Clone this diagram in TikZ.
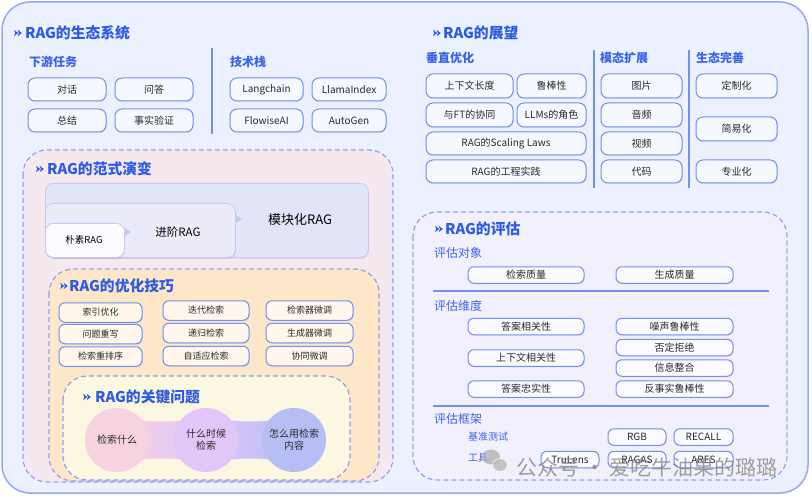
\documentclass[tikz,border=0pt]{standalone}
\usepackage{fontspec}
\setmainfont{Noto Sans CJK SC}
\usetikzlibrary{shadows,positioning}
\definecolor{titleblue}{HTML}{2D5BE3}
\definecolor{subblue}{HTML}{3A63E8}
\definecolor{framebg}{HTML}{EBF1FE}
\definecolor{framebd}{HTML}{93A9F3}
\definecolor{pillbd}{HTML}{7190F0}
\definecolor{pillbg}{HTML}{F6F8FF}
\definecolor{dashbd}{HTML}{8EA2EE}
\definecolor{pinkbg}{HTML}{F6E8EF}
\definecolor{orangebg}{HTML}{FDE7C8}
\definecolor{yellowbg}{HTML}{FCF7E0}
\definecolor{evalbg}{HTML}{F3F0FD}
\definecolor{optbg}{HTML}{FFF7EC}
\definecolor{evbg}{HTML}{FBFAFF}
\definecolor{modbg}{HTML}{E2E4F8}
\definecolor{advbg}{HTML}{ECECF9}
\definecolor{naivebg}{HTML}{FBFBFF}
\definecolor{stagebd}{HTML}{C4CAF3}
\definecolor{textdark}{HTML}{2A2A2A}
\definecolor{ballA}{HTML}{F7D3E1}
\definecolor{ballB}{HTML}{E2C6F9}
\definecolor{ballC}{HTML}{B7BEF6}
\tikzset{
	frame/.style={draw=framebd, line width=1.5pt, fill=framebg, rounded corners=28pt},
	dashbox/.style={draw=dashbd, line width=1.2pt, dash pattern=on 5pt off 3pt, rounded corners=24pt},
	sechead/.style={anchor=west, inner sep=0, text=titleblue, font=\bfseries\fontsize{14.8}{18}\selectfont},
	subhead/.style={anchor=west, inner sep=0, text=subblue, font=\bfseries\fontsize{12}{14}\selectfont},
	evhead/.style={anchor=west, inner sep=0, text=subblue, font=\fontsize{12}{14}\selectfont},
	pill/.style={draw=pillbd, line width=1pt, fill=pillbg, rounded corners=7pt, minimum height=23pt,
		inner sep=0, text=textdark, font=\fontsize{10}{12}\selectfont,
		drop shadow={opacity=0.12, shadow xshift=0.8pt, shadow yshift=-1.2pt}},
	optbox/.style={pill, fill=optbg, rounded corners=6pt, minimum height=19.5pt, font=\fontsize{9}{11}\selectfont},
	evbox/.style={pill, fill=evbg, rounded corners=6pt, minimum height=16.5pt},
	stage/.style={draw=stagebd, line width=0.8pt, rounded corners=8pt, anchor=north west,
		drop shadow={opacity=0.15, shadow xshift=0.8pt, shadow yshift=-1.5pt}},
	sepline/.style={draw=pillbd, line width=1.4pt},
	ball/.style={circle, minimum size=64pt, inner sep=0, align=center, text=textdark,
		font=\fontsize{10}{12}\selectfont},
	secmark/.pic={
		\fill[titleblue] (0,-3.2) -- (4.2,0) -- (0,3.2) -- (1.3,0) -- cycle;
		\fill[titleblue] (3.6,-3.2) -- (7.8,0) -- (3.6,3.2) -- (4.9,0) -- cycle;
	},
}
\begin{document}
\begin{tikzpicture}[x=1pt, y=-1pt]
\useasboundingbox (0,0) rectangle (812,500);
\draw[frame] (2,2) rectangle (808,493);

% RAG的生态系统
\pic at (14,33) {secmark};
\node[sechead] (ecoT) at (25,33) {RAG的生态系统};
\node[subhead] (downT) at (29,62) {下游任务};
\node[subhead] (stackT) at (230,62) {技术栈};
\node[pill, minimum width=78pt] (dh) at (67,89.5) {对话};
\node[pill, minimum width=78pt] (wd) at (154,89.5) {问答};
\node[pill, minimum width=78pt] (zj) at (67,120.5) {总结};
\node[pill, minimum width=78pt] (ss) at (154,120.5) {事实验证};
\node[pill, minimum width=73pt] (lc) at (266.5,89.5) {Langchain};
\node[pill, minimum width=74pt] (li) at (349,89.5) {LlamaIndex};
\node[pill, minimum width=73pt] (fw) at (266.5,120.5) {FlowiseAI};
\node[pill, minimum width=74pt] (ag) at (349,120.5) {AutoGen};
\draw[sepline] (212,48) -- (212,134);

% RAG的展望
\pic at (433,33) {secmark};
\node[sechead] (outT) at (443,33) {RAG的展望};
\node[subhead] (vertT) at (426,58) {垂直优化};
\node[subhead] (modalT) at (600,58) {模态扩展};
\node[subhead] (ecoT2) at (696,58) {生态完善};
\draw[sepline] (594,50) -- (594,188);
\draw[sepline] (689,50) -- (689,188);
\node[pill, minimum width=87pt, minimum height=24pt] (ctx) at (469.5,86) {上下文长度};
\node[pill, minimum width=69pt, minimum height=24pt] (rob) at (551.5,86) {鲁棒性};
\node[pill, minimum width=87pt, minimum height=24pt] (ft) at (469.5,115) {与FT的协同};
\node[pill, minimum width=69pt, minimum height=24pt] (llm) at (551.5,115) {LLMs的角色};
\node[pill, minimum width=160pt] (scal) at (506,143.5) {RAG的Scaling Laws};
\node[pill, minimum width=160pt] (eng) at (506,171.5) {RAG的工程实践};
\node[pill, minimum width=81pt, minimum height=24pt] (img) at (641.5,86) {图片};
\node[pill, minimum width=81pt, minimum height=24pt] (aud) at (641.5,115) {音频};
\node[pill, minimum width=81pt] (vid) at (641.5,143.5) {视频};
\node[pill, minimum width=81pt] (code) at (641.5,171.5) {代码};
\node[pill, minimum width=81pt, minimum height=24pt] (cust) at (736.5,86) {定制化};
\node[pill, minimum width=81pt, minimum height=24pt] (simp) at (736.5,129) {简易化};
\node[pill, minimum width=81pt] (prof) at (736.5,171.5) {专业化};

% RAG的范式演变
\draw[dashbox, fill=pinkbg] (23,150) rectangle (393,482);
\pic at (36,169) {secmark};
\node[sechead] (parT) at (47,169) {RAG的范式演变};
\node[stage, fill=modbg, minimum width=323pt, minimum height=74pt] (modular) at (45,183) {};
\node[stage, fill=advbg, minimum width=190pt, minimum height=54pt] (advanced) at (45,203) {};
\node[stage, fill=naivebg, minimum width=79pt, minimum height=34pt] (naive) at (45,223) {};
\node[text=black, font=\fontsize{13}{15}\selectfont] (modT) at (300,220) {模块化RAG};
\node[text=black, font=\fontsize{11.5}{14}\selectfont] (advT) at (178,232) {进阶RAG};
\node[text=black, font=\fontsize{9.5}{12}\selectfont] (naiveT) at (84,240) {朴素RAG};
\fill[stagebd] (125,228) -- (131,232) -- (125,236) -- cycle;
\fill[stagebd] (236,215) -- (242,219) -- (236,223) -- cycle;

% RAG的优化技巧
\draw[dashbox, fill=orangebg] (49,269) rectangle (379,481);
\pic at (60,286) {secmark};
\node[sechead] (optT) at (69,286) {RAG的优化技巧};
\node[optbox, minimum width=83pt] (idx) at (100.5,312.5) {索引优化};
\node[optbox, minimum width=83pt] (rw) at (100.5,334) {问题重写};
\node[optbox, minimum width=83pt] (rr) at (100.5,356.5) {检索重排序};
\node[optbox, minimum width=86pt] (itr) at (206,310.5) {迭代检索};
\node[optbox, minimum width=86pt] (rec) at (206,333) {递归检索};
\node[optbox, minimum width=86pt] (ada) at (206,356) {自适应检索};
\node[optbox, minimum width=87pt] (rft) at (309.5,310.5) {检索器微调};
\node[optbox, minimum width=87pt] (gft) at (309.5,333) {生成器微调};
\node[optbox, minimum width=87pt] (cft) at (309.5,356) {协同微调};

% RAG的关键问题
\draw[dashbox, fill=yellowbg] (63,376) rectangle (350,480);
\pic at (83,397) {secmark};
\node[sechead] (keyT) at (95,397) {RAG的关键问题};
\shade[left color=ballA!90!ballB, right color=ballB] (117,417) .. controls (150,423) and (175,423) .. (206,417)
	-- (206,463) .. controls (175,457) and (150,457) .. (117,463) -- cycle;
\shade[left color=ballB, right color=ballC] (206,417) .. controls (240,423) and (262,423) .. (294,417)
	-- (294,463) .. controls (262,457) and (240,457) .. (206,463) -- cycle;
\node[ball, fill=ballA] (what) at (117,440) {检索什么};
\node[ball, fill=ballB] (when) at (206,440) {什么时候\\检索};
\node[ball, fill=ballC] (how) at (294,440) {怎么用检索\\内容};

% RAG的评估
\draw[dashbox, fill=evalbg] (413,212) rectangle (787,480);
\pic at (435,229) {secmark};
\node[sechead] (evalT) at (445,229) {RAG的评估};
\node[evhead] (objT) at (434,253) {评估对象};
\node[evbox, minimum width=116pt] (retq) at (526,275) {检索质量};
\node[evbox, minimum width=117pt] (genq) at (674.5,275) {生成质量};
\draw[sepline] (433,291) -- (769,291);
\node[evhead] (dimT) at (434,306) {评估维度};
\node[evbox, minimum width=116pt] (ansrel) at (526,326.5) {答案相关性};
\node[evbox, minimum width=116pt] (ctxrel) at (526,358) {上下文相关性};
\node[evbox, minimum width=116pt] (faith) at (526,389) {答案忠实性};
\node[evbox, minimum width=117pt] (noise) at (674.5,326.5) {噪声鲁棒性};
\node[evbox, minimum width=117pt] (neg) at (674.5,347.5) {否定拒绝};
\node[evbox, minimum width=117pt] (integ) at (674.5,368) {信息整合};
\node[evbox, minimum width=117pt] (cf) at (674.5,389) {反事实鲁棒性};
\draw[sepline] (433,406) -- (769,406);
\node[evhead] (fwT) at (434,419) {评估框架};
\node[evhead, font=\fontsize{10}{12}\selectfont] (benchT) at (468,437) {基准测试};
\node[evhead, font=\fontsize{10}{12}\selectfont] (toolT) at (468,458) {工具};
\node[evbox, minimum width=58pt] (rgb) at (637,437) {RGB};
\node[evbox, minimum width=59pt] (recall) at (703.5,437) {RECALL};
\node[evbox, minimum width=58pt] (tru) at (570,459.5) {TruLens};
\node[evbox, minimum width=58pt] (ragas) at (637,459.5) {RAGAS};
\node[evbox, minimum width=59pt] (ares) at (703.5,459.5) {ARES};

% watermark
\fill[gray!60, opacity=0.8] (491,457) ellipse (9 and 7.5);
\fill[gray!55, draw=white, line width=0.8pt, opacity=0.8] (500,465) ellipse (7.5 and 6.5);
\node[anchor=west, text=gray, opacity=0.75, font=\fontsize{21}{24}\selectfont] (wm) at (513,467) {公众号 · 爱吃牛油果的璐璐};
\end{tikzpicture}
\end{document}
